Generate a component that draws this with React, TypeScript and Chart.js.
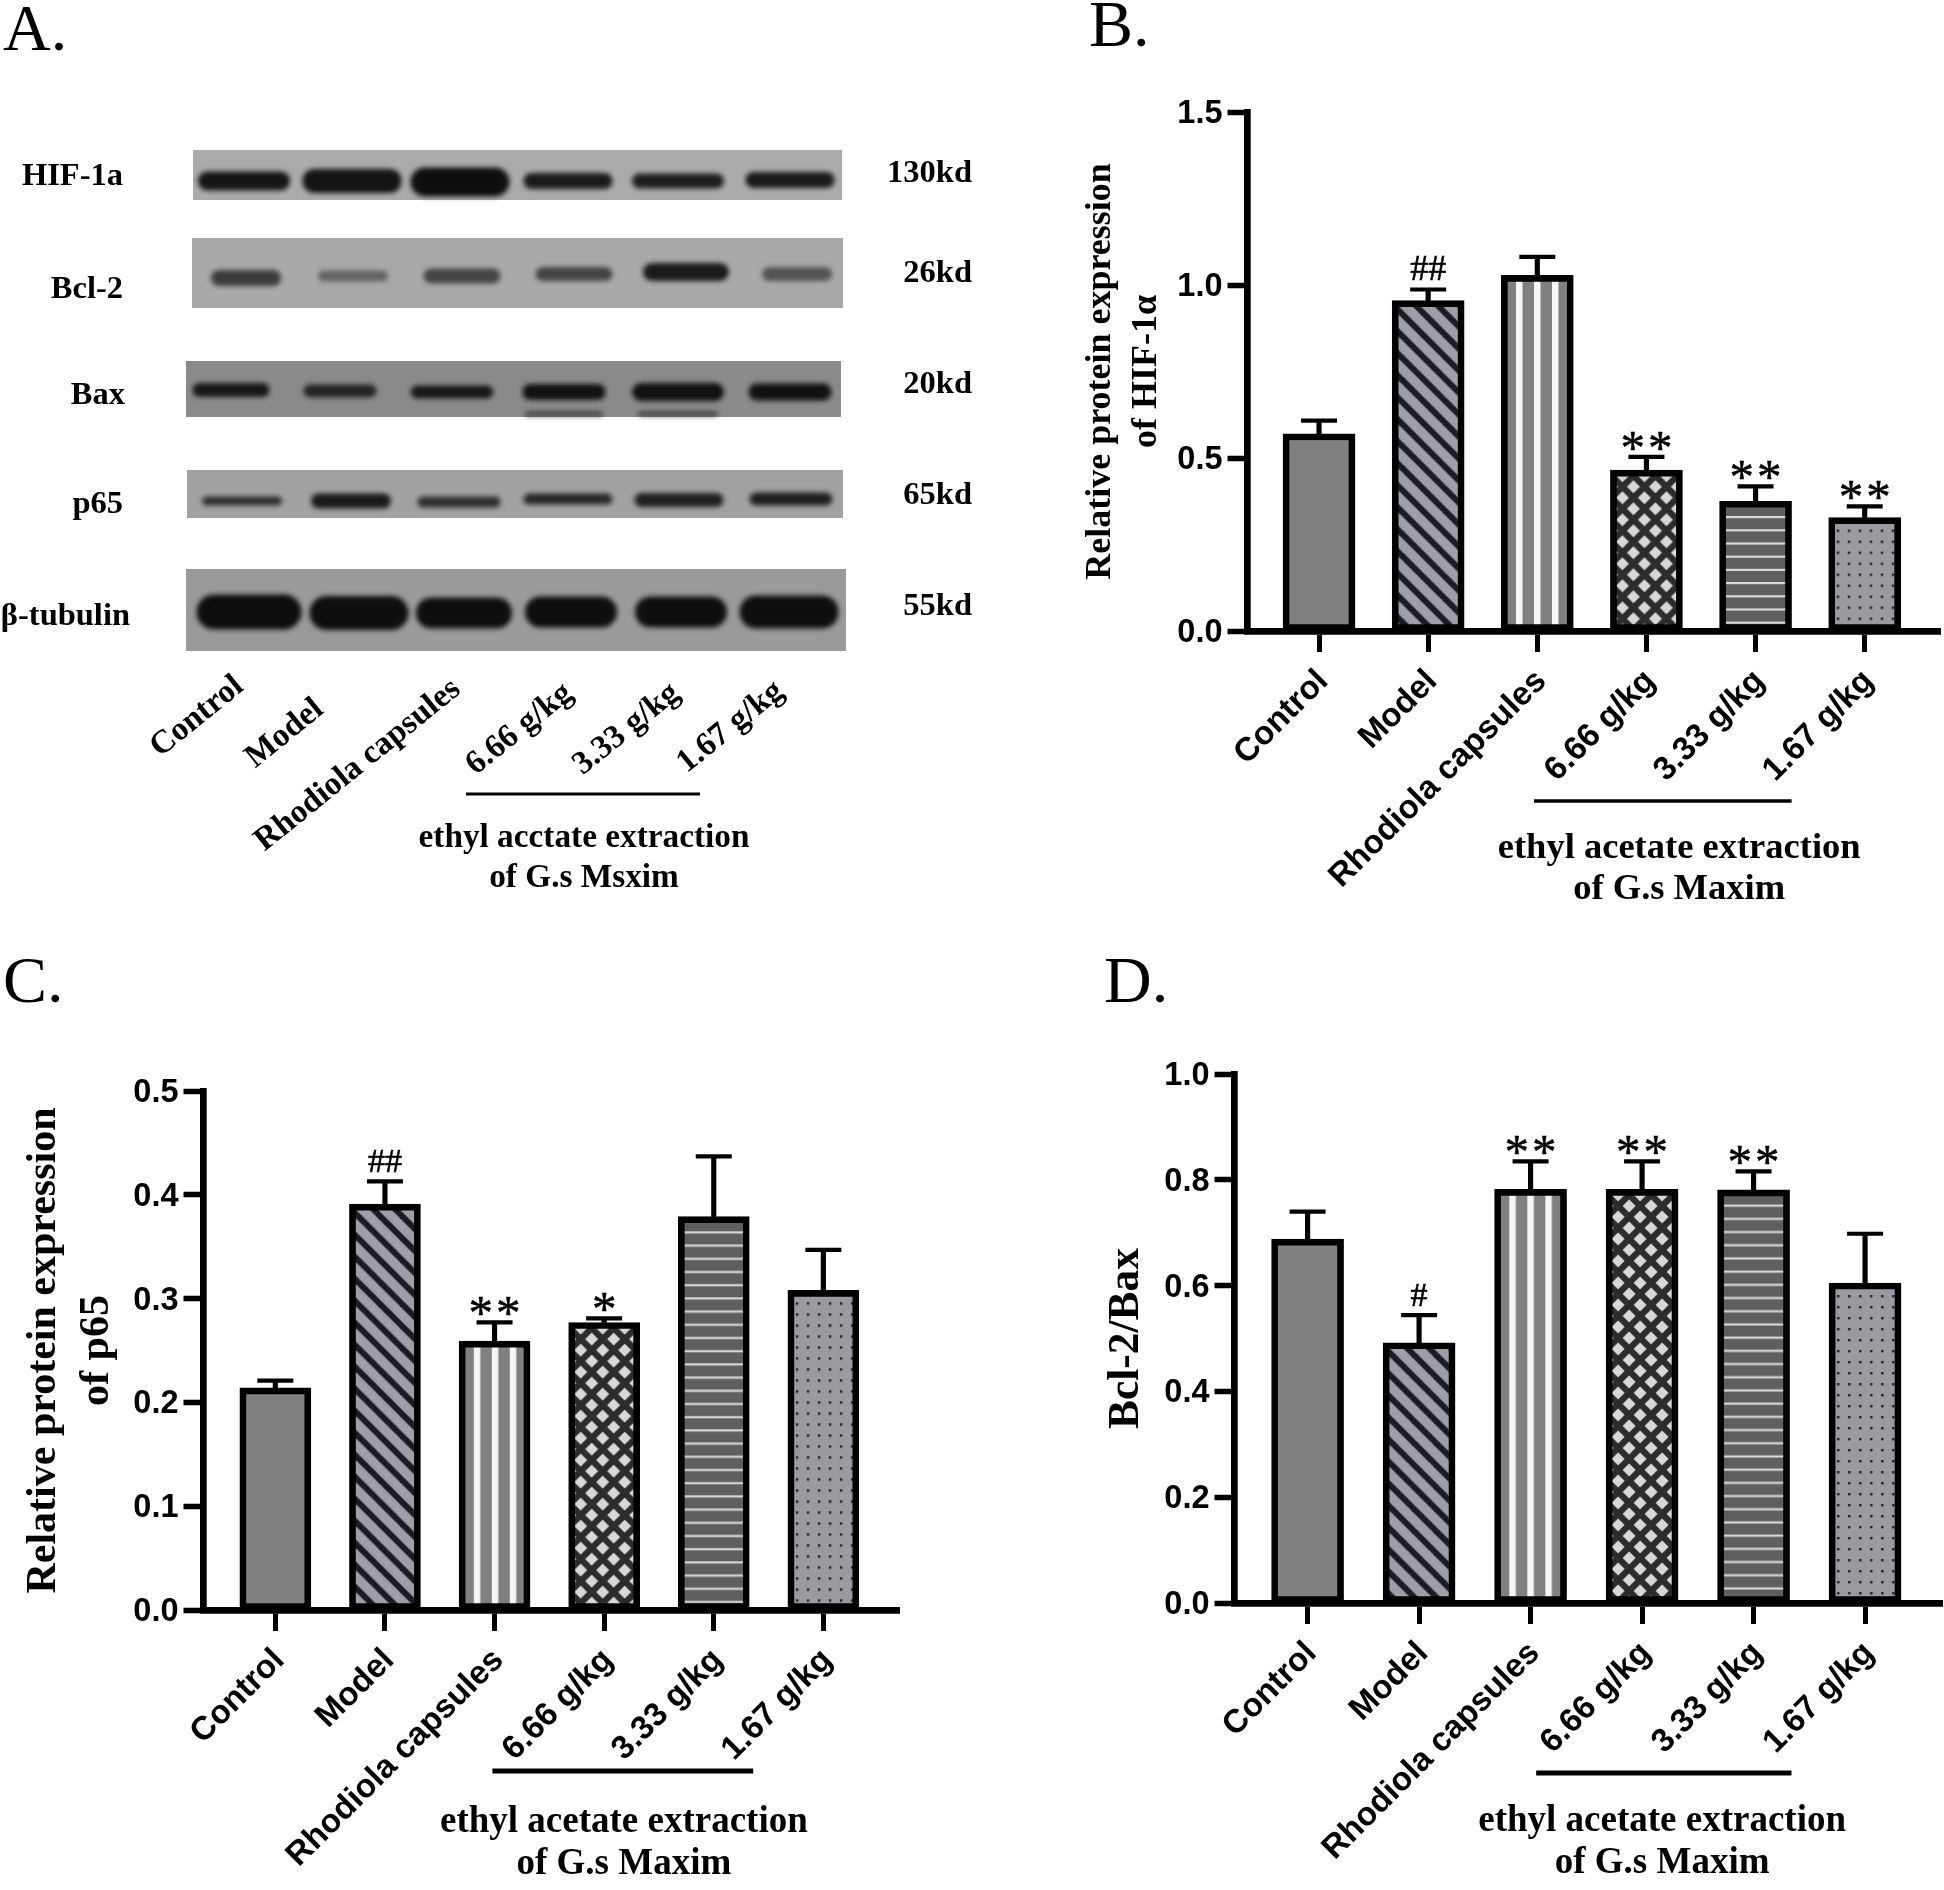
import React, { useEffect, useRef } from "react";
import { Chart, registerables } from "chart.js";

Chart.register(...registerables);

const SANS = '"Liberation Sans", Arial, sans-serif';
const SERIF = '"Liberation Serif", "Times New Roman", serif';

// ---------- data ----------
const categories = ["Control", "Model", "Rhodiola capsules", "6.66 g/kg", "3.33 g/kg", "1.67 g/kg"];

const hifValues = [0.57, 0.955, 1.028, 0.465, 0.375, 0.328];
const hifErrors = [0.038, 0.032, 0.053, 0.038, 0.043, 0.032];
const hifMarks = ["", "##", "", "**", "**", "**"];

const p65Values = [0.214, 0.391, 0.259, 0.277, 0.379, 0.308];
const p65Errors = [0.007, 0.022, 0.018, 0.004, 0.058, 0.039];
const p65Marks = ["", "##", "**", "*", "", ""];

const ratioValues = [0.688, 0.492, 0.782, 0.782, 0.781, 0.605];
const ratioErrors = [0.052, 0.052, 0.053, 0.053, 0.035, 0.093];
const ratioMarks = ["", "#", "**", "**", "**", ""];

const blotRows = ["HIF-1a", "Bcl-2", "Bax", "p65", "β-tubulin"];
const blotWeights = ["130kd", "26kd", "20kd", "65kd", "55kd"];
const blotLanes = ["Control", "Model", "Rhodiola capsules", "6.66 g/kg", "3.33 g/kg", "1.67 g/kg"];

// band: lane centre, row centre, length, thickness, darkness
const hifBands = [[244,181,92,19,.95],[352,181,99,24,.97],[460,182,99,29,1],[568,181,89,16,.92],[678,181,92,15,.9],[790,180,89,16,.92]];
const bclBands = [[246,278,70,16,.7],[353,276,70,11,.45],[462,276,77,15,.65],[574,274,77,14,.65],[686,272,86,18,.92],[797,274,70,14,.55]];
const baxBands = [[231,390,77,14,.92],[340,391,73,13,.82],[452,392,83,13,.92],[564,392,83,16,.98],[678,392,92,18,.98],[790,392,83,17,.98],[564,414,78,5,.6],[678,414,80,5,.6]];
const p65Bands = [[242,501,80,9,.78],[351,501,80,15,.92],[459,502,83,11,.78],[568,499,89,11,.82],[679,500,89,14,.88],[791,499,83,13,.88]];
const tubBands = [[249,612,105,35,1],[359,613,99,34,1],[464,613,96,31,1],[571,612,92,31,1],[681,612,92,31,1],[789,612,99,33,1]];

// strips: left, right, top, bottom, grey
const blotStrips = [
  [193, 842, 150, 200, "#ababab"],
  [192, 843, 238, 308, "#a9a9a9"],
  [186, 841, 361, 417, "#8a8a8a"],
  [187, 843, 470, 518, "#a2a2a2"],
  [186, 846, 569, 651, "#9a9a9a"],
];

// ---------- patterns ----------
function tile(w: number, h: number, draw: (c: CanvasRenderingContext2D) => void) {
  const cv = document.createElement("canvas");
  cv.width = w;
  cv.height = h;
  const c = cv.getContext("2d")!;
  draw(c);
  return c.createPattern(cv, "repeat")!;
}

function makePatterns(): any[] {
  const solid = "#808080";
  const diag = tile(22, 22, (c) => {
    c.fillStyle = "#9e9ea6";
    c.fillRect(0, 0, 22, 22);
    c.strokeStyle = "#1b1b22";
    c.lineWidth = 6;
    [-22, 0, 22].forEach((o) => {
      c.beginPath();
      c.moveTo(o - 2, -2);
      c.lineTo(o + 24, 24);
      c.stroke();
    });
  });
  const vert = tile(18, 4, (c) => {
    c.fillStyle = "#808080";
    c.fillRect(0, 0, 18, 4);
    c.fillStyle = "#f6f6f6";
    c.fillRect(0, 0, 6.5, 4);
  });
  const lattice = tile(22, 22, (c) => {
    c.fillStyle = "#2c2c2c";
    c.fillRect(0, 0, 22, 22);
    c.fillStyle = "#d8d8d8";
    const dia = (x: number, y: number) => {
      c.beginPath();
      c.moveTo(x, y - 6.5);
      c.lineTo(x + 6.5, y);
      c.lineTo(x, y + 6.5);
      c.lineTo(x - 6.5, y);
      c.closePath();
      c.fill();
    };
    [[0, 0], [22, 0], [0, 22], [22, 22], [11, 11]].forEach(([x, y]) => dia(x, y));
  });
  const horiz = tile(4, 66, (c) => {
    c.fillStyle = "#5f5f5f";
    c.fillRect(0, 0, 4, 66);
    c.fillStyle = "#d8d8d8";
    [0, 1, 2, 3, 4].forEach((k) => c.fillRect(0, k * 13.2, 4, 2.2));
  });
  const dots = tile(11, 11, (c) => {
    c.fillStyle = "#9a9aa0";
    c.fillRect(0, 0, 11, 11);
    c.fillStyle = "#222";
    c.fillRect(4, 4, 2.4, 2.4);
  });
  return [solid, diag, vert, lattice, horiz, dots];
}

// where each pattern starts inside its bar
const patternOrigin = [
  null,
  (l: number, t: number) => [l + 6.7, t + 32],
  (l: number, _t: number) => [l + 14.7, 0],
  (l: number, t: number) => [l + 12, t + 27.6],
  (_l: number, t: number) => [0, t + 14.7],
  (l: number, t: number) => [l + 4, t + 8],
];

// ---------- free text ----------
type TextItem = { t: string; x: number; y: number; font: string; align?: CanvasTextAlign; rot?: number };

const textPlugin = {
  id: "freeText",
  afterDraw(chart: any, _a: any, opts: any) {
    const ctx = chart.ctx;
    ctx.save();
    ctx.fillStyle = "#000";
    for (const it of (opts.items || []) as TextItem[]) {
      ctx.save();
      ctx.translate(it.x, it.y);
      if (it.rot) ctx.rotate((it.rot * Math.PI) / 180);
      ctx.font = it.font;
      ctx.textAlign = it.align || "left";
      ctx.textBaseline = "alphabetic";
      ctx.fillText(it.t, 0, 0);
      ctx.restore();
    }
    ctx.restore();
  },
};

// significance marks above the error caps, group line and caption under the axis
const barExtras = {
  id: "barExtras",
  afterDraw(chart: any, _a: any, o: any) {
    const { ctx, chartArea, scales } = chart;
    const tops = o.values.map((v: number, i: number) => v + o.errors[i]);
    ctx.save();
    ctx.fillStyle = "#000";
    ctx.strokeStyle = "#000";
    ctx.textAlign = "center";
    ctx.textBaseline = "alphabetic";
    o.marks.forEach((m: string, i: number) => {
      if (!m) return;
      const px = scales.x.getPixelForValue(i);
      const py = scales.y.getPixelForValue(tops[i]);
      if (m[0] === "#") {
        ctx.font = `${o.hashSize}px ${SERIF}`;
        ctx.lineWidth = 0.6;
        ctx.fillText(m, px, py - 9);
        ctx.strokeText(m, px, py - 9);
      } else {
        ctx.font = `${o.starSize}px ${SERIF}`;
        (ctx as any).letterSpacing = "3px";
        ctx.lineWidth = 0.5;
        ctx.fillText(m, px + 1.5, py + 7);
        ctx.strokeText(m, px + 1.5, py + 7);
        (ctx as any).letterSpacing = "0px";
      }
    });
    const y = chartArea.bottom + o.bracket.dy;
    ctx.lineWidth = o.bracket.w;
    ctx.beginPath();
    ctx.moveTo(scales.x.getPixelForValue(o.bracket.from), y);
    ctx.lineTo(scales.x.getPixelForValue(o.bracket.to), y);
    ctx.stroke();
    ctx.font = `bold ${o.caption.size}px ${SERIF}`;
    const cx = scales.x.getPixelForValue(o.caption.at);
    ctx.fillText(o.caption.lines[0], cx, chartArea.bottom + o.caption.dy[0]);
    ctx.fillText(o.caption.lines[1], cx, chartArea.bottom + o.caption.dy[1]);
    ctx.restore();
  },
};

const captionLines = ["ethyl acetate extraction", "of G.s Maxim"];

function barChart(cv: HTMLCanvasElement, c: any) {
  const patterns = makePatterns();
  const n = c.values.length;
  const points = (fn: (i: number) => any) => Array.from({ length: n }, (_, i) => fn(i));
  const chart = new Chart(cv, {
    type: "bar",
    data: {
      datasets: [
        {
          type: "scatter",
          data: points((i) => ({ x: i, y: c.values[i] + c.errors[i] })),
          pointStyle: "line",
          pointRadius: 18,
          pointBorderWidth: 4.2,
          pointBorderColor: "#000",
          showLine: false,
          order: 0,
        } as any,
        {
          data: points((i) => ({ x: i, y: [c.values[i], c.values[i] + c.errors[i]] })),
          backgroundColor: "#000",
          borderWidth: 0,
          barThickness: 4.5,
          grouped: false,
          order: 1,
        } as any,
        {
          data: points((i) => ({ x: i, y: c.values[i] })),
          backgroundColor: patterns,
          borderColor: "#000",
          borderWidth: 6.7,
          borderSkipped: false,
          barThickness: c.barWidth,
          grouped: false,
          order: 2,
        } as any,
      ],
    },
    options: {
      animation: false,
      responsive: false,
      devicePixelRatio: 1,
      layout: { autoPadding: false, padding: { left: 0, top: c.top, right: c.right, bottom: 0 } },
      plugins: {
        legend: { display: false },
        tooltip: { enabled: false },
        freeText: { items: c.texts },
        barExtras: {
          values: c.values,
          errors: c.errors,
          marks: c.marks,
          hashSize: c.hashSize,
          starSize: c.starSize,
          bracket: c.bracket,
          caption: c.caption,
        },
      } as any,
      scales: {
        x: {
          type: "linear",
          min: -0.66,
          max: 5.69,
          offset: false,
          afterFit: (s: any) => {
            s.height = c.xHeight;
            s.paddingLeft = 0;
            s.paddingRight = 0;
          },
          afterBuildTicks: (s: any) => (s.ticks = categories.map((_, i) => ({ value: i }))),
          grid: { offset: false, drawOnChartArea: false, drawTicks: true, tickLength: 21, tickWidth: 5, tickColor: "#000" },
          border: { display: true, width: 6.7, color: "#000" },
          ticks: {
            autoSkip: false,
            minRotation: 45,
            maxRotation: 45,
            padding: c.xPad,
            labelOffset: 4,
            color: "#000",
            font: { family: SANS, weight: "bold", size: 33 },
            callback: (v: any) => categories[v] ?? "",
          },
        },
        y: {
          min: 0,
          max: c.yMax,
          afterFit: (s: any) => {
            s.width = c.yWidth;
            s.paddingTop = 0;
            s.paddingBottom = 0;
          },
          grid: { drawOnChartArea: false, drawTicks: true, tickLength: 19.5, tickWidth: 5.5, tickColor: "#000" },
          border: { display: true, width: 6.7, color: "#000" },
          ticks: {
            stepSize: c.yStep,
            padding: 5,
            labelOffset: 2,
            color: "#000",
            font: { family: SANS, weight: "bold", size: 32.5 },
            callback: (v: any) => Number(v).toFixed(1),
          },
          title: {
            display: true,
            text: c.title,
            color: "#000",
            padding: { top: c.titlePad, bottom: 0 },
            font: { family: SERIF, weight: "bold", size: c.titleSize, lineHeight: c.titleLine },
          },
        },
      },
    } as any,
    plugins: [textPlugin, barExtras],
  });
  // line each hatch up with its own bar, then paint again
  chart.getDatasetMeta(2).data.forEach((bar: any, i: number) => {
    const origin = patternOrigin[i];
    if (!origin) return;
    const [tx, ty] = origin(bar.x - c.barWidth / 2, bar.y);
    patterns[i].setTransform(new DOMMatrix([1, 0, 0, 1, tx, ty]));
  });
  chart.draw();
  return chart;
}

function bandImage(w: number, h: number, d: number) {
  const pad = 12;
  const cv = document.createElement("canvas");
  cv.width = w + pad * 2;
  cv.height = h + pad * 2;
  const c = cv.getContext("2d")!;
  c.filter = "blur(2.5px)";
  c.fillStyle = `rgba(14,14,14,${d})`;
  c.beginPath();
  (c as any).roundRect(pad, pad, w, h, h / 2);
  c.fill();
  return cv;
}

function blotChart(cv: HTMLCanvasElement) {
  const bands = [...hifBands, ...bclBands, ...baxBands, ...p65Bands, ...tubBands];
  const bold = (s: number) => `bold ${s}px ${SERIF}`;
  const rowRight = [123, 123, 125, 123, 130];
  const rowBase = [185, 298, 404, 513, 625];
  const kdBase = [182, 282, 393, 504, 615];
  const laneAnchor = [[245, 689], [325, 712], [462, 692], [574, 696], [681, 696], [785, 694]];
  const items: TextItem[] = [
    { t: "A.", x: 3, y: 50, font: `66px ${SERIF}` },
    ...blotRows.map((t, i) => ({ t, x: rowRight[i], y: rowBase[i], font: bold(32.5), align: "right" as const })),
    ...blotWeights.map((t, i) => ({ t, x: 972, y: kdBase[i], font: bold(32.5), align: "right" as const })),
    ...blotLanes.map((t, i) => ({ t, x: laneAnchor[i][0], y: laneAnchor[i][1], font: bold(33), align: "right" as const, rot: -39 })),
    { t: "ethyl acctate extraction", x: 584, y: 847, font: bold(33.3), align: "center" as const },
    { t: "of G.s Msxim", x: 584, y: 887, font: bold(33.3), align: "center" as const },
  ];
  return new Chart(cv, {
    type: "scatter",
    data: {
      datasets: [
        {
          data: bands.map((b) => ({ x: b[0], y: b[1] })),
          pointRadius: 5,
          pointStyle: bands.map((b) => bandImage(b[2], b[3], b[4])),
          order: 0,
        } as any,
        ...blotStrips.map((s: any) => ({
          data: [
            { x: s[0], y: (s[2] + s[3]) / 2 },
            { x: s[1], y: (s[2] + s[3]) / 2 },
          ],
          showLine: true,
          pointRadius: 0,
          borderColor: s[4],
          borderWidth: s[3] - s[2],
          order: 1,
        })),
        {
          data: [
            { x: 466, y: 794 },
            { x: 700, y: 794 },
          ],
          showLine: true,
          pointRadius: 0,
          borderColor: "#000",
          borderWidth: 3,
          order: 1,
        } as any,
      ],
    },
    options: {
      animation: false,
      responsive: false,
      devicePixelRatio: 1,
      layout: { autoPadding: false, padding: 0 },
      plugins: { legend: { display: false }, tooltip: { enabled: false }, freeText: { items } } as any,
      scales: {
        x: { type: "linear", min: 0, max: 1000, display: false },
        y: { type: "linear", min: 0, max: 945, reverse: true, display: false },
      },
    } as any,
    plugins: [textPlugin],
  });
}

const frames = [
  { left: 0, top: 0, width: 1000, height: 945 },
  { left: 1060, top: 0, width: 884, height: 945 },
  { left: 0, top: 945, width: 960, height: 945 },
  { left: 1060, top: 945, width: 884, height: 945 },
];

export default function App() {
  const a = useRef<HTMLCanvasElement>(null);
  const b = useRef<HTMLCanvasElement>(null);
  const c = useRef<HTMLCanvasElement>(null);
  const d = useRef<HTMLCanvasElement>(null);
  useEffect(() => {
    const charts = [
      blotChart(a.current!),
      barChart(b.current!, {
        values: hifValues, errors: hifErrors, marks: hifMarks,
        yMax: 1.5, yStep: 0.5, yWidth: 187, top: 112, right: 4, xHeight: 314, xPad: 10, barWidth: 72,
        title: ["Relative protein expression", "of HIF-1α"], titleSize: 36, titleLine: 1.28, titlePad: 18,
        hashSize: 36, starSize: 49,
        bracket: { from: 1.97, to: 4.33, dy: 170, w: 3.5 },
        caption: { at: 3.3, lines: captionLines, size: 36.5, dy: [227, 268] },
        texts: [{ t: "B.", x: 29, y: 46, font: `66px ${SERIF}` }],
      }),
      barChart(c.current!, {
        values: p65Values, errors: p65Errors, marks: p65Marks,
        yMax: 0.5, yStep: 0.1, yWidth: 203, top: 146, right: 61, xHeight: 280, xPad: 10, barWidth: 71,
        title: ["Relative protein expression", "of p65"], titleSize: 42, titleLine: 1.26, titlePad: 18,
        hashSize: 34, starSize: 49,
        bracket: { from: 1.98, to: 4.36, dy: 161, w: 5 },
        caption: { at: 3.18, lines: captionLines, size: 37, dy: [222, 264] },
        texts: [{ t: "C.", x: 3, y: 57, font: `66px ${SERIF}` }],
      }),
      barChart(d.current!, {
        values: ratioValues, errors: ratioErrors, marks: ratioMarks,
        yMax: 1, yStep: 0.2, yWidth: 174, top: 129, right: 2, xHeight: 287, xPad: 10, barWidth: 72,
        title: ["Bcl-2/Bax"], titleSize: 43.5, titleLine: 1.31, titlePad: 38,
        hashSize: 34, starSize: 49,
        bracket: { from: 2.05, to: 4.34, dy: 170, w: 5 },
        caption: { at: 3.18, lines: captionLines, size: 37, dy: [228, 270] },
        texts: [{ t: "D.", x: 44, y: 57, font: `66px ${SERIF}` }],
      }),
    ];
    return () => charts.forEach((ch) => ch.destroy());
  }, []);
  const refs = [a, b, c, d];
  return (
    <div style={{ position: "absolute", left: 0, top: 0, width: 1944, height: 1890, background: "#fff", overflow: "hidden" }}>
      {frames.map((f, i) => (
        <canvas key={i} ref={refs[i]} width={f.width} height={f.height} style={{ position: "absolute", left: f.left, top: f.top, width: f.width, height: f.height }} />
      ))}
    </div>
  );
}
